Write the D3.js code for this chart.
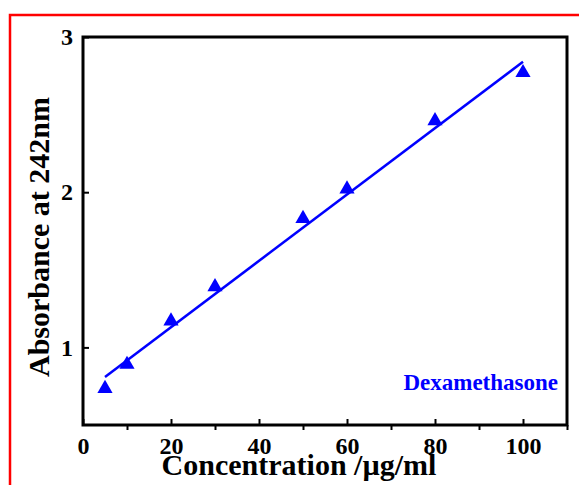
<!DOCTYPE html>
<html>
<head>
<meta charset="utf-8">
<script src="https://cdn.jsdelivr.net/npm/d3@7"></script>
<style>
    body { margin: 0; background: #fff; }
    svg { display: block; }
</style>
</head>
<body>
<div id="chart"></div>
<script>
// concentration (µg/ml) and measured absorbance
const concentrations = [5, 10, 20, 30, 50, 60, 80, 100]
const absorbance = [0.735, 0.89, 1.17, 1.39, 1.83, 2.02, 2.46, 2.77]
// linear fit line end points
const fitX = [5, 100]
const fitY = [0.81, 2.84]
const xMajorTicks = [0, 20, 40, 60, 80, 100]
const xMinorTicks = [10, 30, 50, 70, 90, 110]
const yTicks = [1, 2, 3]
const seriesName = "Dexamethasone"

const width = 579
const height = 485
const margin = {left: 83, top: 37, right: 12, bottom: 60}

const svg = d3.select("#chart")
    .append("svg")
    .attr("width", width)
    .attr("height", height)

// red frame around the figure
svg.append("path")
    .attr("d", `M${width + 5},15 H10 V${height + 5}`)
    .attr("fill", "none")
    .attr("stroke", "#ff0000")
    .attr("stroke-width", 2.5)

const x = d3.scaleLinear().domain([0, 110]).range([margin.left, width - margin.right])
const y = d3.scaleLinear().domain([0.5, 3]).range([height - margin.bottom, margin.top])

const font = "'Liberation Serif', 'Times New Roman', serif"
const blue = "#0000ff"

// x axis: major ticks inward, minor ticks outward
const xAxis = svg.append("g")
    .attr("transform", `translate(0,${y(0.5)})`)
    .call(d3.axisBottom(x).tickValues(xMajorTicks).tickSize(-6).tickPadding(11.5))
xAxis.select(".domain").remove()
xAxis.selectAll("line").attr("stroke-width", 2)
xAxis.selectAll("text")
    .attr("font-family", font)
    .attr("font-weight", "bold")
    .attr("font-size", 24)
    .attr("fill", "#000")

svg.append("g")
    .attr("transform", `translate(0,${y(0.5)})`)
    .call(d3.axisBottom(x).tickValues(xMinorTicks).tickSize(5).tickFormat(""))
    .call((g) => g.select(".domain").remove())
    .selectAll("line").attr("stroke-width", 2)

const yAxis = svg.append("g")
    .attr("transform", `translate(${x(0)},0)`)
    .call(d3.axisLeft(y).tickValues(yTicks).tickSize(-6).tickPadding(10).tickFormat(d3.format("d")))
yAxis.select(".domain").remove()
yAxis.selectAll("line").attr("stroke-width", 2)
yAxis.selectAll("text")
    .attr("font-family", font)
    .attr("font-weight", "bold")
    .attr("font-size", 24)
    .attr("fill", "#000")

// plot frame
svg.append("rect")
    .attr("x", x(0))
    .attr("y", y(3))
    .attr("width", x(110) - x(0))
    .attr("height", y(0.5) - y(3))
    .attr("fill", "none")
    .attr("stroke", "#000")
    .attr("stroke-width", 3)

// fit line
svg.append("path")
    .datum(fitX.map((d, i) => [d, fitY[i]]))
    .attr("d", d3.line().x((d) => x(d[0])).y((d) => y(d[1])))
    .attr("fill", "none")
    .attr("stroke", blue)
    .attr("stroke-width", 2.5)

// data points
svg.append("g")
    .selectAll("path")
    .data(concentrations.map((d, i) => [d, absorbance[i]]))
    .join("path")
    .attr("transform", (d) => `translate(${x(d[0])},${y(d[1])})`)
    .attr("d", d3.symbol(d3.symbolTriangle, 100))
    .attr("fill", blue)

svg.append("text")
    .attr("x", 558)
    .attr("y", 390)
    .attr("text-anchor", "end")
    .attr("font-family", font)
    .attr("font-weight", "bold")
    .attr("font-size", 23)
    .attr("fill", blue)
    .text(seriesName)

svg.append("text")
    .attr("x", 299)
    .attr("y", 475)
    .attr("text-anchor", "middle")
    .attr("font-family", font)
    .attr("font-weight", "bold")
    .attr("font-size", 30)
    .text("Concentration /µg/ml")

svg.append("text")
    .attr("transform", `translate(49,${237}) rotate(-90)`)
    .attr("text-anchor", "middle")
    .attr("font-family", font)
    .attr("font-weight", "bold")
    .attr("font-size", 30)
    .text("Absorbance at 242nm")
</script>
</body>
</html>
